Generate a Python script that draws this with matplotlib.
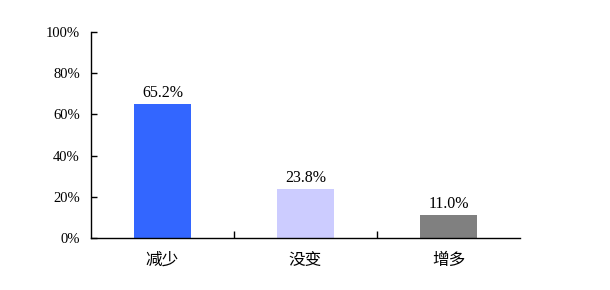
import matplotlib
matplotlib.use("Agg")
import matplotlib.pyplot as plt

categories = ["减少", "没变", "增多"]
values = [65.2, 23.8, 11.0]
colors = ["#3366FF", "#CCCCFF", "#808080"]
yticks = [0, 20, 40, 60, 80, 100]

plt.rcParams["font.family"] = ["Liberation Serif", "Noto Sans CJK SC", "DejaVu Sans"]

fig = plt.figure(figsize=(6.1, 2.9), dpi=100)
ax = fig.add_axes([91 / 610, 52 / 290, 429 / 610, 206 / 290])

x = list(range(len(categories)))
ax.bar(x, values, width=0.4, color=colors)
for xi, v in zip(x, values):
    ax.text(xi, v + 1.5, f"{v:.1f}%", ha="center", va="bottom", fontsize=11.5)

ax.set_xlim(-0.5, len(categories) - 0.5)
ax.set_ylim(0, 100)
ax.set_yticks(yticks)
ax.set_yticklabels([f"{t}%" for t in yticks], fontsize=10.5)
ax.tick_params(axis="y", direction="in", length=4, width=1, pad=8)

ax.set_xticks(x)
ax.set_xticklabels(categories, fontsize=12, family=["Noto Sans CJK SC"])
ax.tick_params(axis="x", length=0, pad=10)
ax.set_xticks([0.5, 1.5], minor=True)
ax.tick_params(axis="x", which="minor", direction="in", length=5, width=1)

for s in ["top", "right"]:
    ax.spines[s].set_visible(False)
ax.spines["left"].set_linewidth(1)
ax.spines["bottom"].set_linewidth(1)

fig.savefig("out.png", dpi=100)
